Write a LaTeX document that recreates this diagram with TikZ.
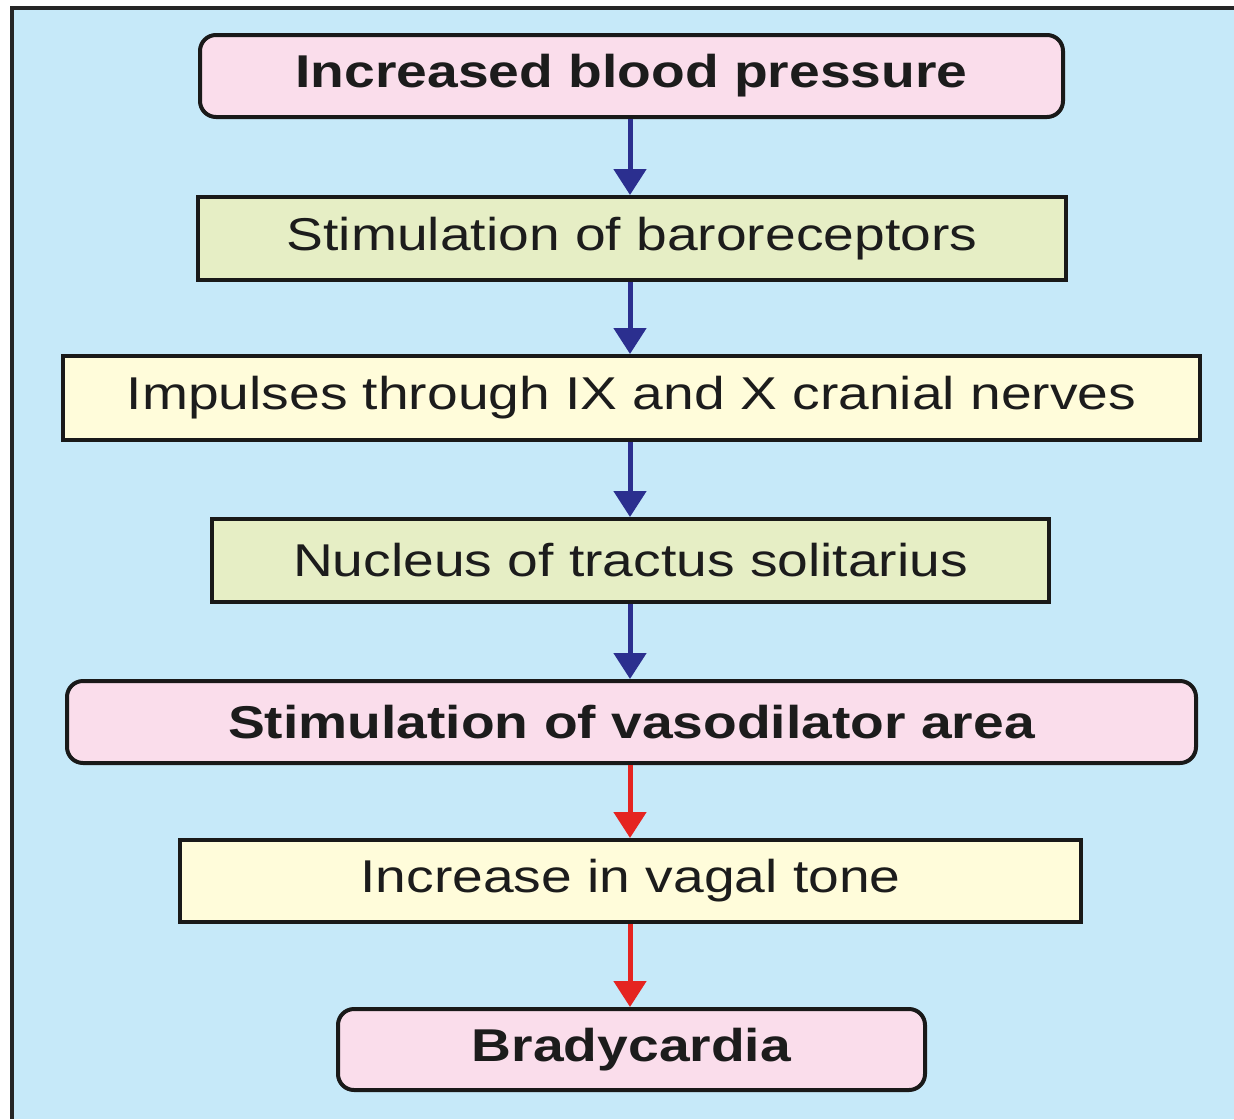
\documentclass[tikz,border=0pt]{standalone}
\usepackage{fontspec}
\setmainfont{Liberation Sans}
\newfontfamily\widefont[FakeStretch=1.2]{Liberation Sans}
\usetikzlibrary{arrows.meta}
\definecolor{bgblue}{HTML}{C6E9F9}
\definecolor{boxpink}{HTML}{FADDEB}
\definecolor{boxgreen}{HTML}{E6EEC5}
\definecolor{boxyellow}{HTML}{FFFCDA}
\definecolor{arrblue}{HTML}{2B2F8F}
\definecolor{arrred}{HTML}{E52421}
\definecolor{txt}{HTML}{1C1C1C}
\tikzset{
  box/.style={draw=black!90, line width=4pt, inner sep=0pt, text=txt,
    font=\widefont\fontsize{46}{50}\selectfont},
  pinkbox/.style={box, fill=boxpink, rounded corners=16pt, font=\widefont\bfseries\fontsize{46}{50}\selectfont},
  greenbox/.style={box, fill=boxgreen},
  yellowbox/.style={box, fill=boxyellow},
  flowblue/.style={draw=arrblue, line width=5pt, -{Triangle[width=32pt,length=26pt]}},
  flowred/.style={draw=arrred, line width=5pt, -{Triangle[width=32pt,length=26pt]}}
}
\begin{document}
\begin{tikzpicture}[x=1pt,y=-1pt]
\useasboundingbox (0,0) rectangle (1234,1119);
\fill[white] (0,0) rectangle (1234,1119);
\fill[bgblue] (12,8) rectangle (1234,1119);
\draw[black!85, line width=4pt] (12,1119) -- (12,8) -- (1234,8);

\node[pinkbox, minimum width=863pt, minimum height=82pt] (b1) at (631.5,76) {Increased blood pressure};
\node[greenbox, minimum width=868pt, minimum height=83pt] (b2) at (632,238.5) {Stimulation of baroreceptors};
\node[yellowbox, minimum width=1137pt, minimum height=84pt] (b3) at (631.5,398) {Impulses through IX and X cranial nerves};
\node[greenbox, minimum width=837pt, minimum height=83pt] (b4) at (630.5,560.5) {Nucleus of tractus solitarius};
\node[pinkbox, minimum width=1129pt, minimum height=82pt] (b5) at (631.5,722) {Stimulation of vasodilator area};
\node[yellowbox, minimum width=901pt, minimum height=82pt] (b6) at (630.5,881) {Increase in vagal tone};
\node[pinkbox, minimum width=587pt, minimum height=81pt] (b7) at (631.5,1049.5) {Bradycardia};

\draw[flowblue] ([xshift=-1.5pt]b1.south) -- ([xshift=-1.5pt]b1.south |- b2.north);
\draw[flowblue] ([xshift=-2pt]b2.south) -- ([xshift=-2pt]b2.south |- b3.north);
\draw[flowblue] ([xshift=-1.5pt]b3.south) -- ([xshift=-1.5pt]b3.south |- b4.north);
\draw[flowblue] ([xshift=-0.5pt]b4.south) -- ([xshift=-0.5pt]b4.south |- b5.north);
\draw[flowred] ([xshift=-1.5pt]b5.south) -- ([xshift=-1.5pt]b5.south |- b6.north);
\draw[flowred] ([xshift=-0.5pt]b6.south) -- ([xshift=-0.5pt]b6.south |- b7.north);
\end{tikzpicture}
\end{document}
